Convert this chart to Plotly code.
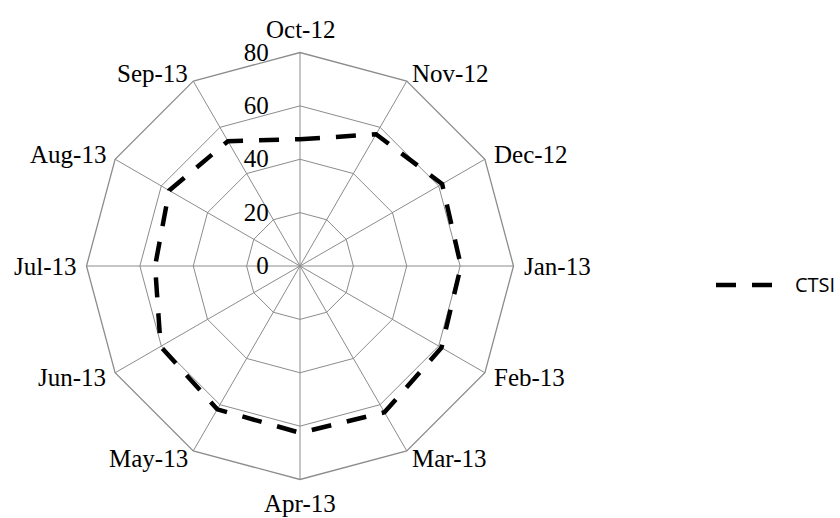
import math
import plotly.graph_objects as go

months = ["Oct-12", "Nov-12", "Dec-12", "Jan-13", "Feb-13", "Mar-13",
          "Apr-13", "May-13", "Jun-13", "Jul-13", "Aug-13", "Sep-13"]
ctsi = [47.5, 57.0, 61.5, 60.3, 61.2, 63.3, 62.5, 62.0, 60.3, 54.3, 56.6, 54.0]
radial_ticks = [0, 20, 40, 60, 80]
series_name = "CTSI"

W, H = 840, 518
CX, CY, R = 300, 266, 213.5          # polar centre and outer radius, in pixels
grid_color = "#8c8c8c"
serif = "Liberation Serif, Times New Roman, serif"
dash_style = "20px,16px"

fig = go.Figure()
fig.add_trace(go.Scatterpolar(
    r=ctsi + ctsi[:1],
    theta=months + months[:1],
    mode="lines",
    name=series_name,
    showlegend=False,
    line=dict(color="black", width=4.5, dash=dash_style),
))

# category labels placed just outside each vertex of the outer polygon
label_gap = 9
for i, m in enumerate(months):
    a = math.radians(i * 360 / len(months))
    s, c = math.sin(a), math.cos(a)
    px = CX + (R + label_gap) * s
    py = CY - (R + label_gap) * c
    xanchor = "left" if s > 0.01 else ("right" if s < -0.01 else "center")
    yanchor = "bottom" if c > 0.99 else ("top" if c < -0.99 else "middle")
    fig.add_annotation(text=m, xref="paper", yref="paper",
                       x=px / W, y=1 - py / H, xanchor=xanchor, yanchor=yanchor,
                       showarrow=False, borderpad=0,
                       font=dict(family=serif, size=25, color="black"))

# legend key with a long dashed sample
fig.add_shape(type="line", xref="paper", yref="paper",
              x0=716 / W, x1=774 / W, y0=1 - 285 / H, y1=1 - 285 / H,
              line=dict(color="black", width=4.5, dash=dash_style))
fig.add_annotation(text=series_name, xref="paper", yref="paper",
                   x=794 / W, y=1 - 284 / H, xanchor="left", yanchor="middle",
                   showarrow=False, borderpad=0,
                   font=dict(family="Open Sans, Liberation Sans, sans-serif", size=20, color="black"))

fig.update_layout(
    width=W, height=H,
    margin=dict(l=0, r=0, t=0, b=0),
    paper_bgcolor="white",
    plot_bgcolor="white",
    showlegend=False,
    polar=dict(
        domain=dict(x=[(CX - R) / W, (CX + R) / W],
                    y=[(H - CY - R) / H, (H - CY + R) / H]),
        gridshape="linear",
        bgcolor="white",
        radialaxis=dict(
            range=[0, 80],
            tickvals=radial_ticks,
            angle=90,
            tickangle=90,
            side="counterclockwise",
            showline=False,
            ticks="outside",
            ticklen=22,
            tickcolor="rgba(0,0,0,0)",
            gridcolor=grid_color,
            gridwidth=1.3,
            tickfont=dict(family=serif, size=25, color="black"),
        ),
        angularaxis=dict(
            direction="clockwise",
            rotation=90,
            categoryarray=months,
            categoryorder="array",
            showline=True,
            linecolor=grid_color,
            linewidth=1.3,
            gridcolor=grid_color,
            gridwidth=1.3,
            ticks="",
            showticklabels=False,
        ),
    ),
)

fig.write_html("out.html")
